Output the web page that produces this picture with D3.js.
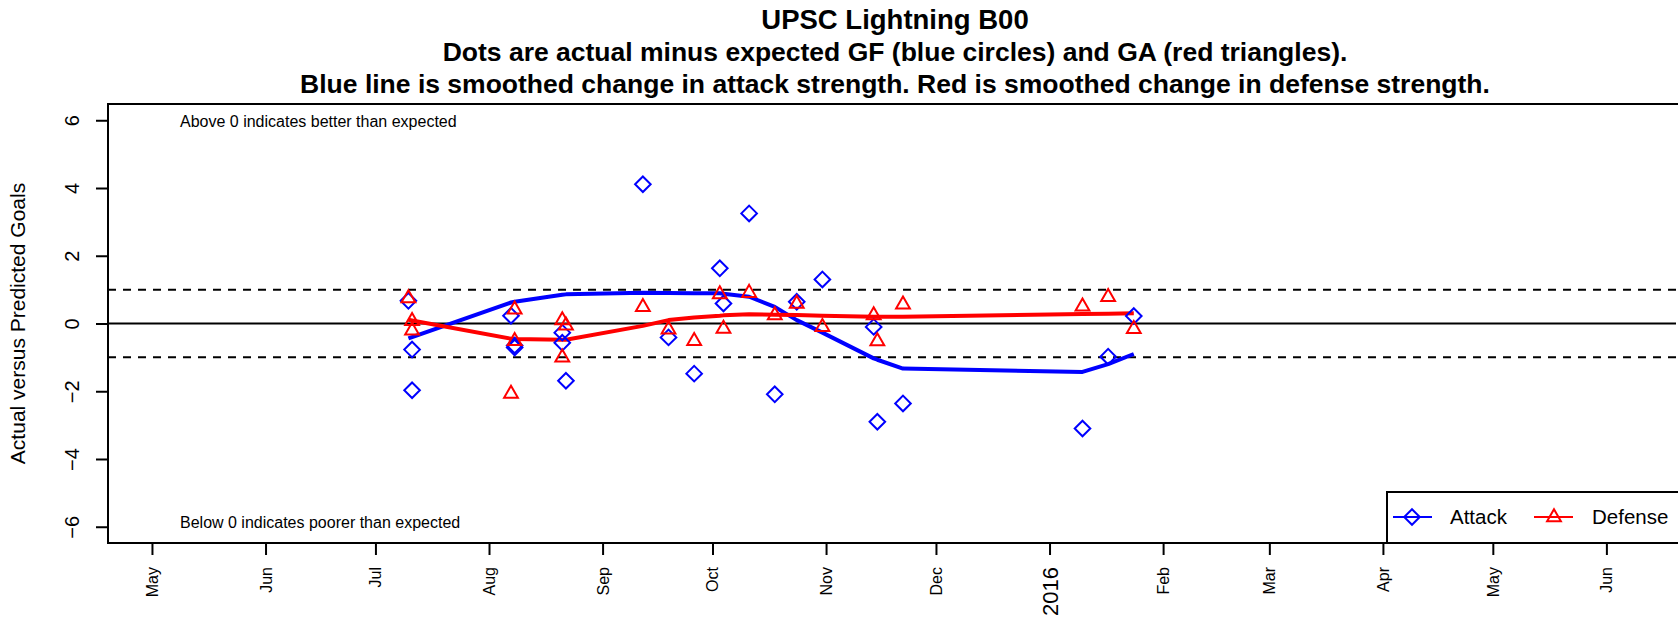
<!DOCTYPE html>
<html><head><meta charset="utf-8">
<script src="https://cdn.jsdelivr.net/npm/d3@7"></script>
<style>body{margin:0;background:#fff}svg{display:block}text{font-family:"Liberation Sans",Arial,sans-serif}</style>
</head><body>
<svg id="c" width="1678" height="617"></svg>
<script>
const gameDates = ["2015-07-10","2015-07-11","2015-07-11","2015-08-07","2015-08-08","2015-08-08","2015-08-21","2015-08-21","2015-08-22","2015-09-12","2015-09-19","2015-09-26","2015-10-03","2015-10-04","2015-10-11","2015-10-18","2015-10-24","2015-10-31","2015-11-14","2015-11-15","2015-11-22","2016-01-10","2016-01-17","2016-01-24"];
const attackDiff = [0.67,-0.77,-1.97,0.23,-0.71,-0.65,-0.27,-0.57,-1.69,4.11,-0.41,-1.48,1.63,0.59,3.25,-2.09,0.64,1.30,-0.10,-2.90,-2.36,-3.10,-0.98,0.22];
const defenseDiff = [0.75,0.08,-0.20,-2.07,0.42,-0.51,0.10,-1.00,-0.05,0.49,-0.17,-0.51,0.87,-0.15,0.91,0.25,0.59,-0.10,0.25,-0.52,0.57,0.51,0.79,-0.16];
const attackSmooth = [-0.44,-0.40,-0.40,0.62,0.64,0.64,0.85,0.85,0.86,0.91,0.90,0.89,0.89,0.88,0.79,0.49,0.10,-0.27,-1.03,-1.07,-1.33,-1.43,-1.20,-0.90];
const defenseSmooth = [0.11,0.09,0.09,-0.45,-0.46,-0.46,-0.48,-0.48,-0.48,-0.07,0.10,0.18,0.23,0.24,0.27,0.26,0.25,0.23,0.20,0.20,0.20,0.28,0.29,0.30];
const yTicks = [-6,-4,-2,0,2,4,6];
const monthLabels = ["May","Jun","Jul","Aug","Sep","Oct","Nov","Dec","2016","Feb","Mar","Apr","May","Jun"];
const titleLines = ["UPSC Lightning B00","Dots are actual minus expected GF (blue circles) and GA (red triangles).","Blue line is smoothed change in attack strength. Red is smoothed change in defense strength."];

const parse = d3.timeParse("%Y-%m-%d");
const dates = gameDates.map(parse);
const svg = d3.select("#c");
const L = 108, R = 1676, T = 104, B = 543;
const x = d3.scaleTime().domain([new Date(2015,3,19), new Date(2016,5,20)]).range([L,R]);
const y = d3.scaleLinear().domain([-6.48,6.48]).range([B,T]);

// reference lines
const hl = (v,dash,w)=>svg.append("line").attr("x1",L).attr("x2",R).attr("y1",y(v)).attr("y2",y(v))
  .attr("stroke","#000").attr("stroke-width",w).attr("stroke-dasharray",dash);
hl(0,null,2); hl(1,"8,7",2); hl(-1,"8,7",2);

// smoothed lines
const line = d3.line().x((d,i)=>x(dates[i])).y(d=>y(d));
svg.append("path").attr("d",line(attackSmooth)).attr("fill","none").attr("stroke","#0000ff").attr("stroke-width",4).attr("stroke-linejoin","round");
svg.append("path").attr("d",line(defenseSmooth)).attr("fill","none").attr("stroke","#ff0000").attr("stroke-width",4).attr("stroke-linejoin","round");

// points
const diamond = "M0,-7.8L7.8,0L0,7.8L-7.8,0Z";
const tri = "M0,-7.8L6.9,4.2L-6.9,4.2Z";
svg.append("g").selectAll("path").data(attackDiff).join("path")
  .attr("d",diamond).attr("transform",(d,i)=>`translate(${x(dates[i])},${y(d)})`)
  .attr("fill","none").attr("stroke","#0000ff").attr("stroke-width",2);
svg.append("g").selectAll("path").data(defenseDiff).join("path")
  .attr("d",tri).attr("transform",(d,i)=>`translate(${x(dates[i])},${y(d)})`)
  .attr("fill","none").attr("stroke","#ff0000").attr("stroke-width",2);

// box
svg.append("rect").attr("x",L).attr("y",T).attr("width",R-L+10).attr("height",B-T)
  .attr("fill","none").attr("stroke","#000").attr("stroke-width",2);

// y axis
const yAx = svg.append("g").attr("transform",`translate(${L},0)`)
  .call(d3.axisLeft(y).tickValues(yTicks).tickSize(12).tickFormat(d=>d<0?"\u2212"+Math.abs(d):d));
yAx.select(".domain").remove();
yAx.selectAll(".tick line").attr("stroke","#000").attr("stroke-width",2);
yAx.selectAll(".tick text").attr("font-size",20).attr("fill","#000")
  .attr("x",null).attr("dy",null).attr("text-anchor","middle")
  .attr("transform","translate(-29,0) rotate(-90)");

// x axis
const months = d3.timeMonth.range(new Date(2015,4,1), new Date(2016,5,2));
const xAx = svg.append("g").attr("transform",`translate(0,${B})`)
  .call(d3.axisBottom(x).tickValues(months).tickSize(12).tickFormat((d,i)=>monthLabels[i]));
xAx.select(".domain").remove();
xAx.selectAll(".tick line").attr("stroke","#000").attr("stroke-width",2);
xAx.selectAll(".tick text").attr("fill","#000").attr("dy",null).attr("y",null)
  .attr("text-anchor","end")
  .attr("font-size",(d,i)=>monthLabels[i]==="2016"?22:16)
  .attr("transform",(d,i)=>monthLabels[i]==="2016"?"translate(8,24) rotate(-90)":"translate(5.5,24) rotate(-90)");

// axis title
svg.append("text").attr("transform",`translate(25,${(T+B)/2}) rotate(-90)`).attr("text-anchor","middle")
  .attr("font-size",21).text("Actual versus Predicted Goals");

// titles
svg.selectAll(".ttl").data(titleLines).join("text").attr("class","ttl")
  .attr("x",895).attr("y",(d,i)=>29+i*32).attr("text-anchor","middle")
  .attr("font-size",(d,i)=>i===0?27.5:26.5).attr("font-weight","bold").text(d=>d);

// annotations
svg.append("text").attr("x",180).attr("y",127).attr("font-size",16).text("Above 0 indicates better than expected");
svg.append("text").attr("x",180).attr("y",528).attr("font-size",16).text("Below 0 indicates poorer than expected");

// legend
const lg = svg.append("g");
lg.append("rect").attr("x",1387).attr("y",492).attr("width",320).attr("height",B-492)
  .attr("fill","#fff").attr("stroke","#000").attr("stroke-width",2);
const ly = 517;
lg.append("line").attr("x1",1393).attr("x2",1432).attr("y1",ly).attr("y2",ly).attr("stroke","#0000ff").attr("stroke-width",2);
lg.append("path").attr("d",diamond).attr("transform",`translate(1412,${ly})`).attr("fill","none").attr("stroke","#0000ff").attr("stroke-width",2);
lg.append("text").attr("x",1450).attr("y",ly+7).attr("font-size",20.5).text("Attack");
lg.append("line").attr("x1",1534).attr("x2",1573).attr("y1",ly).attr("y2",ly).attr("stroke","#ff0000").attr("stroke-width",2);
lg.append("path").attr("d",tri).attr("transform",`translate(1554,${ly})`).attr("fill","none").attr("stroke","#ff0000").attr("stroke-width",2);
lg.append("text").attr("x",1592).attr("y",ly+7).attr("font-size",20.5).text("Defense");
</script>
</body></html>
